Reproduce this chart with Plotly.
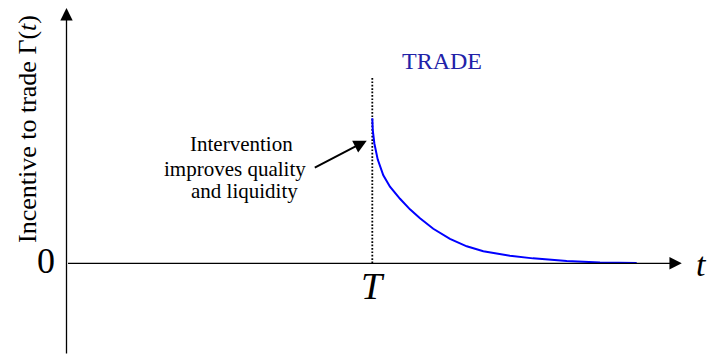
import plotly.graph_objects as go

# ---- data ----
T = 5.0
t_vals = [5.0, 5.008, 5.033, 5.088, 5.180, 5.289, 5.453, 5.616, 5.780, 5.997,
          6.270, 6.544, 6.815, 7.088, 7.251, 7.627, 8.179, 8.723, 9.323]
gamma_vals = [1.0, 0.917, 0.828, 0.717, 0.607, 0.528, 0.445, 0.372, 0.310, 0.238,
              0.169, 0.117, 0.083, 0.062, 0.052, 0.034, 0.015, 0.0055, 0.002]
dotted_top = 1.28
x_axis_end = 10.06
y_axis_top = 1.76
y_axis_bottom = -0.632
zero_label = "0"
T_label = "T"
t_label = "t"
y_title = "Incentive to trade Γ(<i>t</i>)"
trade_label = "TRADE"
intervention_lines = ["Intervention", "improves quality", "and liquidity"]

SERIF = "Liberation Serif"

fig = go.Figure()

# dotted vertical line at T
fig.add_trace(go.Scatter(x=[T, T], y=[0, dotted_top], mode="lines",
                         line=dict(color="black", width=1.8, dash="1.7px,1.7px"),
                         hoverinfo="skip", showlegend=False))

annotations = []
# axes as arrows
annotations.append(dict(x=x_axis_end, y=0, ax=0, ay=0, xref="x", yref="y", axref="x", ayref="y",
                        text="", showarrow=True, arrowhead=2, arrowsize=1.9, arrowwidth=1.3,
                        arrowcolor="black", standoff=0, startstandoff=0))
annotations.append(dict(x=0, y=y_axis_top, ax=0, ay=y_axis_bottom, xref="x", yref="y", axref="x", ayref="y",
                        text="", showarrow=True, arrowhead=2, arrowsize=1.9, arrowwidth=1.3,
                        arrowcolor="black", standoff=0, startstandoff=0))

# curve (drawn over the axis)
fig.add_trace(go.Scatter(x=t_vals, y=gamma_vals, mode="lines",
                         line=dict(color="#0000ff", width=2),
                         hoverinfo="skip", showlegend=False))

# intervention arrow
annotations.append(dict(x=T - 0.091, y=0.846, ax=T - 0.965, ay=0.655, xref="x", yref="y",
                        axref="x", ayref="y", text="", showarrow=True, arrowhead=2,
                        arrowsize=1.3, arrowwidth=2, arrowcolor="black", standoff=0, startstandoff=0))

W, H = 708, 357
def px(x, y):
    return x / W, 1 - y / H

text_pos = [(241.5, 144), (235, 169), (244, 191)]
for line, (xx, yy) in zip(intervention_lines, text_pos):
    X, Y = px(xx, yy)
    annotations.append(dict(x=X, y=Y, xref="paper", yref="paper", text=line, showarrow=False,
                            xanchor="center", yanchor="middle",
                            font=dict(family=SERIF, size=21, color="black")))

X, Y = px(442, 61)
annotations.append(dict(x=X, y=Y, xref="paper", yref="paper", text=trade_label, showarrow=False,
                        xanchor="center", yanchor="middle",
                        font=dict(family=SERIF, size=24, color="#2222a8")))

X, Y = px(27, 129)
annotations.append(dict(x=X, y=Y, xref="paper", yref="paper", text=y_title, showarrow=False,
                        xanchor="center", yanchor="middle", textangle=-90,
                        font=dict(family=SERIF, size=26, color="black")))

X, Y = px(45.5, 261)
annotations.append(dict(x=X, y=Y, xref="paper", yref="paper", text=zero_label, showarrow=False,
                        xanchor="center", yanchor="middle",
                        font=dict(family=SERIF, size=36, color="black")))

X, Y = px(373, 286)
annotations.append(dict(x=X, y=Y, xref="paper", yref="paper", text="<i>" + T_label + "</i>",
                        showarrow=False, xanchor="center", yanchor="middle",
                        font=dict(family=SERIF, size=38, color="black")))

X, Y = px(701, 264)
annotations.append(dict(x=X, y=Y, xref="paper", yref="paper", text="<i>" + t_label + "</i>",
                        showarrow=False, xanchor="center", yanchor="middle",
                        font=dict(family=SERIF, size=34, color="black")))

x0_px, k = 66.5, 61.16
y0_px, ky = 263.3, 145.0
fig.update_layout(
    width=W, height=H,
    margin=dict(l=0, r=0, t=0, b=0),
    paper_bgcolor="white", plot_bgcolor="white",
    xaxis=dict(range=[-x0_px / k, (W - x0_px) / k], visible=False, fixedrange=True),
    yaxis=dict(range=[-(H - y0_px) / ky, y0_px / ky], visible=False, fixedrange=True),
    annotations=annotations,
    showlegend=False,
)

fig.write_html("out.html", config={"displayModeBar": False},
               post_script="document.body.style.margin='0px';document.body.style.overflow='hidden';")
